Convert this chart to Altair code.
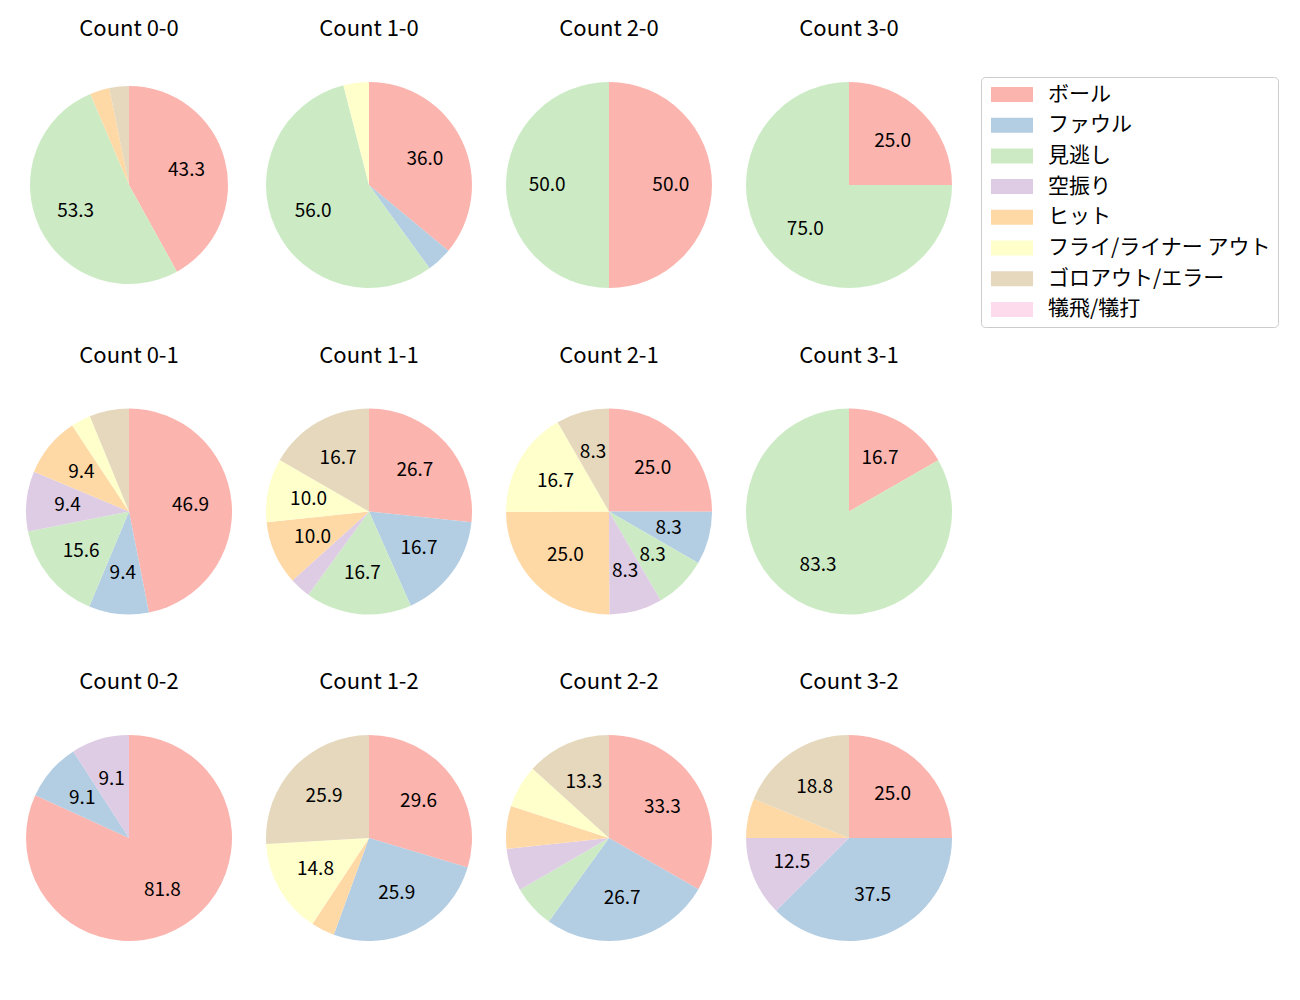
import altair as alt
import pandas as pd

categories = ["ボール", "ファウル", "見逃し", "空振り", "ヒット",
              "フライ/ライナー アウト", "ゴロアウト/エラー", "犠飛/犠打"]
colors = ["#fbb4ae", "#b3cde3", "#ccebc5", "#decbe4", "#fed9a6",
          "#ffffcc", "#e5d8bd", "#fddaec"]

panel_titles = [
    ["Count 0-0", "Count 1-0", "Count 2-0", "Count 3-0"],
    ["Count 0-1", "Count 1-1", "Count 2-1", "Count 3-1"],
    ["Count 0-2", "Count 1-2", "Count 2-2", "Count 3-2"],
]

# percentages per category (same order as categories)
pct_0_0 = [43.3, 0, 53.3, 0, 3.3, 0, 3.3, 0]
pct_1_0 = [36.0, 4.0, 56.0, 0, 0, 4.0, 0, 0]
pct_2_0 = [50.0, 0, 50.0, 0, 0, 0, 0, 0]
pct_3_0 = [25.0, 0, 75.0, 0, 0, 0, 0, 0]
pct_0_1 = [46.9, 9.4, 15.6, 9.4, 9.4, 3.1, 6.2, 0]
pct_1_1 = [26.7, 16.7, 16.7, 3.3, 10.0, 10.0, 16.7, 0]
pct_2_1 = [25.0, 8.3, 8.3, 8.3, 25.0, 16.7, 8.3, 0]
pct_3_1 = [16.7, 0, 83.3, 0, 0, 0, 0, 0]
pct_0_2 = [81.8, 9.1, 0, 9.1, 0, 0, 0, 0]
pct_1_2 = [29.6, 25.9, 0, 0, 3.7, 14.8, 25.9, 0]
pct_2_2 = [33.3, 26.7, 6.7, 6.7, 6.7, 6.7, 13.3, 0]
pct_3_2 = [25.0, 37.5, 0, 12.5, 6.2, 0, 18.8, 0]

panel_values = [
    [pct_0_0, pct_1_0, pct_2_0, pct_3_0],
    [pct_0_1, pct_1_1, pct_2_1, pct_3_1],
    [pct_0_2, pct_1_2, pct_2_2, pct_3_2],
]

FONT = "Noto Sans CJK JP"
R = 103
SIZE = 2 * R
# the first panel's pie is drawn slightly smaller in the reference
radius_style = {"Count 0-0": 99}

color_enc = alt.Color(
    "cat:N",
    scale=alt.Scale(domain=categories, range=colors),
    sort=categories,
    legend=alt.Legend(
        title=None,
        orient="none",
        legendX=955,
        legendY=-5,
        symbolType="M-1,-1H4.6V1H-1Z",
        symbolSize=225,
        symbolStrokeWidth=0,
        symbolOpacity=1,
        labelFont=FONT,
        labelFontSize=21,
        labelColor="#000000",
        labelOffset=39,
        labelLimit=400,
        rowPadding=8.7,
        padding=7,
        strokeColor="#cccccc",
        fillColor="#ffffff",
        cornerRadius=4,
    ),
)


def make_panel(title, values):
    rows = []
    for i, (c, v) in enumerate(zip(categories, values)):
        if v > 0:
            rows.append({"cat": c, "idx": i, "value": v,
                         "label": f"{v:.1f}" if v >= 7 else ""})
    df = pd.DataFrame(rows)
    r = radius_style.get(title, R)
    base = alt.Chart(df).encode(
        theta=alt.Theta("value:Q", stack=True),
        order=alt.Order("idx:Q", sort="ascending"),
    )
    arc = base.mark_arc(radius=r, stroke=None).encode(color=color_enc)
    text = base.mark_text(radius=r * 0.6, font=FONT, fontSize=19,
                          color="#000000").encode(text="label:N")
    return alt.layer(arc, text).properties(
        width=SIZE, height=SIZE,
        title=alt.TitleParams(title, fontSize=22, font=FONT,
                              fontWeight="normal", color="#000000",
                              anchor="middle", offset=41),
    )


rows = []
for r in range(3):
    rows.append(alt.hconcat(*[make_panel(panel_titles[r][c], panel_values[r][c])
                              for c in range(4)], spacing=34))

chart = alt.vconcat(*rows, spacing=56.5).properties(
    padding={"left": 18, "top": 10, "right": 5, "bottom": 5}
).configure_view(stroke=None).configure_concat(spacing=34)

chart.save("out.html", embed_options={"renderer": "svg", "actions": False})
